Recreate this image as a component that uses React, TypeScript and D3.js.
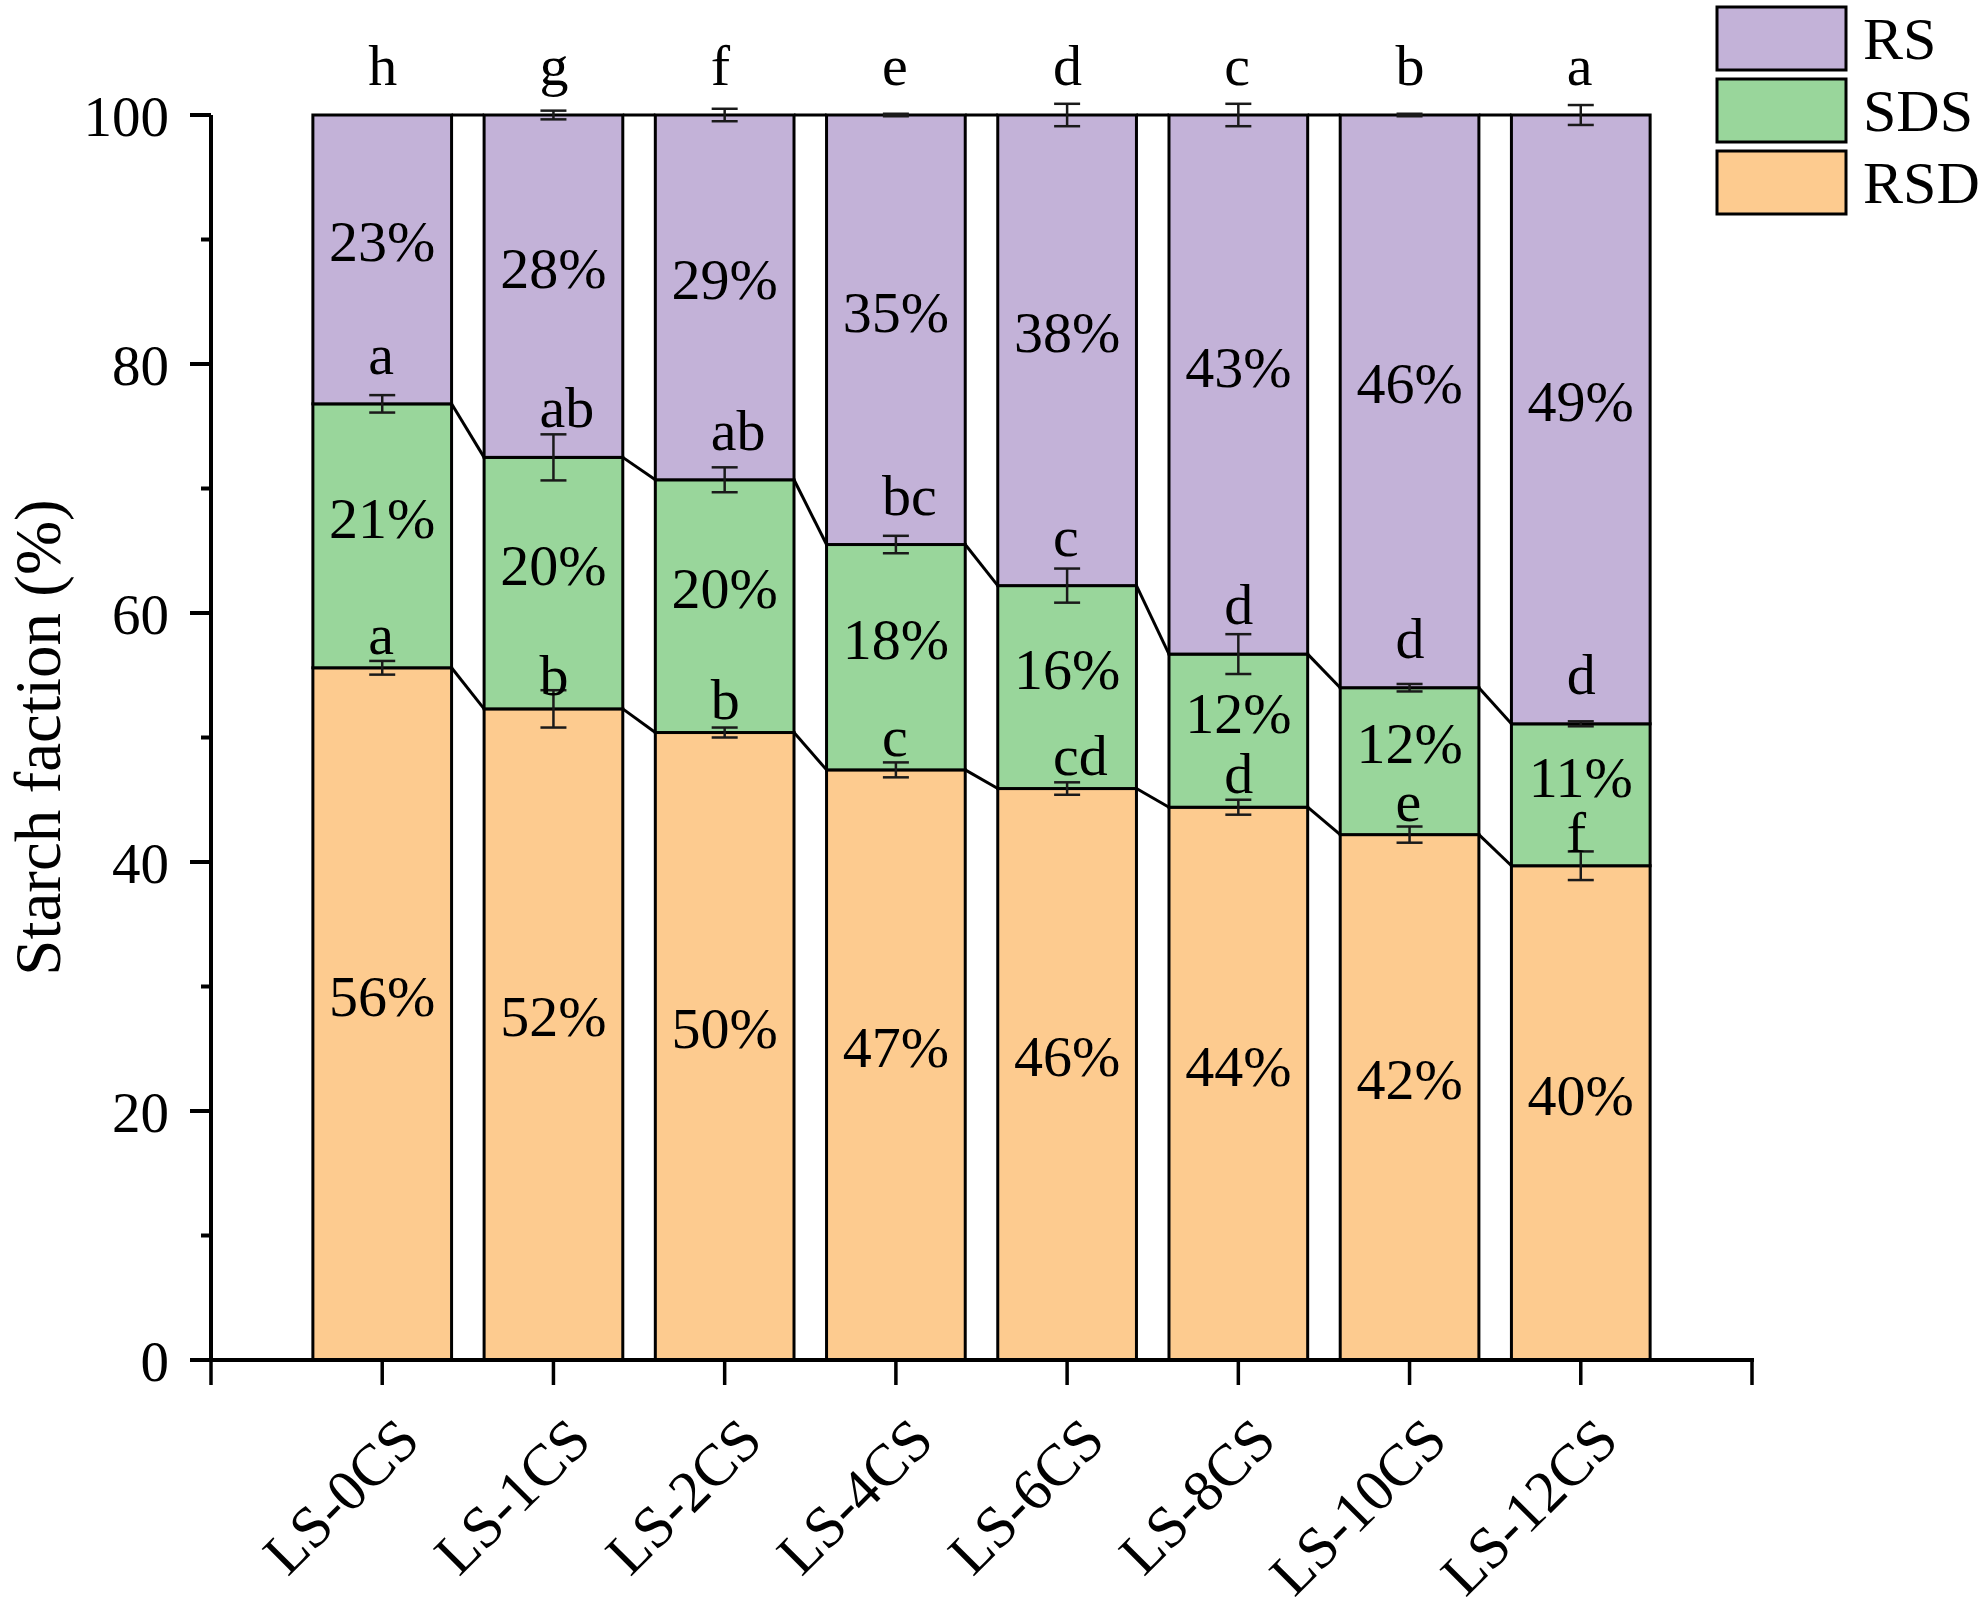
import { useEffect } from 'react';
import * as d3 from 'd3';

// Data
const categories = ['LS-0CS', 'LS-1CS', 'LS-2CS', 'LS-4CS', 'LS-6CS', 'LS-8CS', 'LS-10CS', 'LS-12CS'];
const rsd = [55.6, 52.3, 50.4, 47.4, 45.9, 44.4, 42.2, 39.7];
const sds = [21.2, 20.2, 20.3, 18.1, 16.3, 12.3, 11.8, 11.4];
const rs = [23.2, 27.5, 29.3, 34.5, 37.8, 43.3, 46.0, 48.9];

const rsdErr = [0.55, 1.5, 0.4, 0.6, 0.5, 0.6, 0.65, 1.15];
const sdsErr = [0.7, 1.85, 1.0, 0.7, 1.37, 1.6, 0.3, 0.2];
const rsErr = [0, 0.35, 0.5, 0.1, 0.9, 0.9, 0.1, 0.8];

const rsdText = ['56%', '52%', '50%', '47%', '46%', '44%', '42%', '40%'];
const sdsText = ['21%', '20%', '20%', '18%', '16%', '12%', '12%', '11%'];
const rsText = ['23%', '28%', '29%', '35%', '38%', '43%', '46%', '49%'];

const rsdLetters = ['a', 'b', 'b', 'c', 'cd', 'd', 'e', 'f'];
const sdsLetters = ['a', 'ab', 'ab', 'bc', 'c', 'd', 'd', 'd'];
const rsLetters = ['h', 'g', 'f', 'e', 'd', 'c', 'b', 'a'];

const yTicks = [0, 20, 40, 60, 80, 100];
const yMinorTicks = [10, 30, 50, 70, 90];

const keys = ['RSD', 'SDS', 'RS'] as const;
const colors: Record<string, string> = { RSD: '#fdcb8f', SDS: '#99d69b', RS: '#c3b2d8' };
const errs: Record<string, number[]> = { RSD: rsdErr, SDS: sdsErr, RS: rsErr };
const texts: Record<string, string[]> = { RSD: rsdText, SDS: sdsText, RS: rsText };
const letters: Record<string, string[]> = { RSD: rsdLetters, SDS: sdsLetters, RS: rsLetters };
const letterGap: Record<string, number> = { RSD: 14, SDS: 30, RS: 30 };

const width = 1983;
const height = 1610;
const font = '"Liberation Serif", "Times New Roman", serif';

export default function App() {
  useEffect(() => {
    document.body.style.margin = '0';
  }, []);

  const x = d3.scaleLinear().domain([0, categories.length + 1]).range([211, 1752]);
  const y = d3.scaleLinear().domain([0, 100]).range([1360, 115]);
  const bw = x(0.81) - x(0);

  const rows = categories.map((c, i) => ({ cat: c, RSD: rsd[i], SDS: sds[i], RS: rs[i] }));
  const series = d3.stack<any>().keys(keys as any)(rows);

  const xTicks = d3.range(0, categories.length + 2);

  return (
    <svg width={width} height={height} style={{ display: 'block', background: '#fff' }} fontFamily={font}>
      {/* bars */}
      {series.map((s) =>
        s.map((d, i) => (
          <rect
            key={s.key + i}
            x={x(i + 1) - bw / 2}
            y={y(d[1])}
            width={bw}
            height={y(d[0]) - y(d[1])}
            fill={colors[s.key]}
            stroke="#000"
            strokeWidth={3}
          />
        ))
      )}

      {/* connecting lines between bar tops */}
      {series.map((s) =>
        s.slice(0, -1).map((d, i) => (
          <line
            key={'c' + s.key + i}
            x1={x(i + 1) + bw / 2}
            y1={y(d[1])}
            x2={x(i + 2) - bw / 2}
            y2={y(s[i + 1][1])}
            stroke="#000"
            strokeWidth={3}
          />
        ))
      )}

      {/* error bars */}
      {series.map((s) =>
        s.map((d, i) => {
          const e = errs[s.key][i];
          if (!e) return null;
          const cx = x(i + 1);
          const y1 = y(d[1] + e);
          const y2 = y(d[1] - e);
          return (
            <g key={'e' + s.key + i} stroke="#1a1a1a" strokeWidth={2.5}>
              <line x1={cx} x2={cx} y1={y1} y2={y2} />
              <line x1={cx - 13} x2={cx + 13} y1={y1} y2={y1} />
              <line x1={cx - 13} x2={cx + 13} y1={y2} y2={y2} />
            </g>
          );
        })
      )}

      {/* percentage labels */}
      {series.map((s) =>
        s.map((d, i) => (
          <text
            key={'t' + s.key + i}
            x={x(i + 1)}
            y={y((d[0] + d[1]) / 2) + 2}
            textAnchor="middle"
            fontSize={58}
            fill="#000"
          >
            {texts[s.key][i]}
          </text>
        ))
      )}

      {/* significance letters */}
      {series.map((s) =>
        s.map((d, i) => (
          <text
            key={'l' + s.key + i}
            x={x(i + 1) - 14}
            y={y(d[1]) - letterGap[s.key]}
            fontSize={58}
            fill="#000"
          >
            {letters[s.key][i]}
          </text>
        ))
      )}

      {/* y axis */}
      <line x1={x(0)} x2={x(0)} y1={y(0) + 2} y2={y(100)} stroke="#000" strokeWidth={4} />
      {yTicks.map((t) => (
        <g key={'yt' + t}>
          <line x1={x(0) - 21} x2={x(0)} y1={y(t)} y2={y(t)} stroke="#000" strokeWidth={4} />
          <text x={169} y={y(t) + 21} textAnchor="end" fontSize={57}>
            {t}
          </text>
        </g>
      ))}
      {yMinorTicks.map((t) => (
        <line key={'ym' + t} x1={x(0) - 10} x2={x(0)} y1={y(t)} y2={y(t)} stroke="#000" strokeWidth={4} />
      ))}

      {/* x axis */}
      <line x1={x(0) - 21} x2={x(categories.length + 1) + 2} y1={y(0)} y2={y(0)} stroke="#000" strokeWidth={4} />
      {xTicks.map((t) => (
        <line key={'xt' + t} x1={x(t)} x2={x(t)} y1={y(0)} y2={y(0) + 25} stroke="#000" strokeWidth={3.5} />
      ))}
      {categories.map((c, i) => (
        <text
          key={'xl' + c}
          transform={`translate(${x(i + 1) + 40},${1443}) rotate(-45)`}
          textAnchor="end"
          fontSize={59}
        >
          {c}
        </text>
      ))}

      {/* y axis title */}
      <text transform={`translate(60,${(y(0) + y(100)) / 2}) rotate(-90)`} textAnchor="middle" fontSize={65}>
        Starch faction (%)
      </text>

      {/* legend */}
      {['RS', 'SDS', 'RSD'].map((k, i) => (
        <g key={'lg' + k} transform={`translate(1717,${7 + i * 72})`}>
          <rect width={129} height={63} fill={colors[k]} stroke="#000" strokeWidth={3} />
          <text x={146} y={52} fontSize={60}>
            {k}
          </text>
        </g>
      ))}
    </svg>
  );
}
